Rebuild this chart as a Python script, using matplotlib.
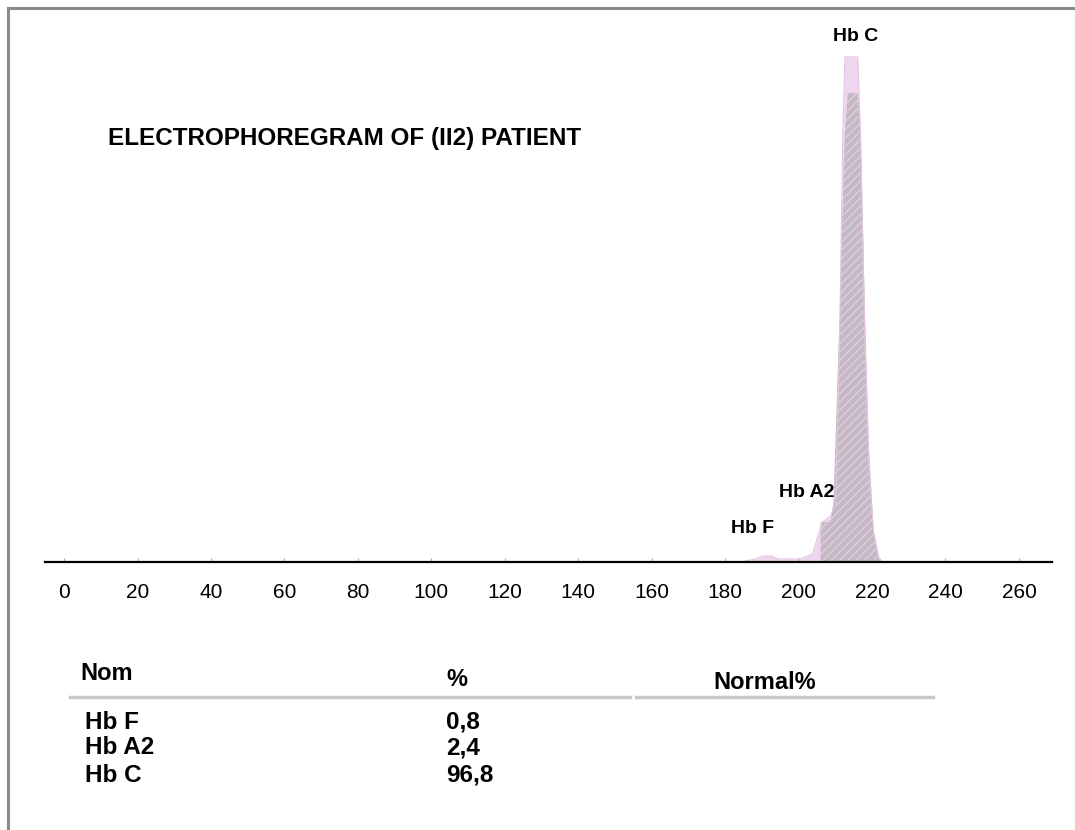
"""
Electropherogram of (II2) patient: capillary electrophoresis trace with Hb fractions table.
"""
import matplotlib.pyplot as plt

# Trace (migration position vs. signal, arbitrary units)
outer_x = [-5, 150, 184.2, 188.3, 190.2, 192.4, 194.6, 200.5, 203.8, 205.4, 206.5,
           208.7, 210.1, 211.2, 212.0, 212.6, 216.1, 216.9, 218.0, 219.1, 220.4,
           221.8, 222.9, 269]
outer_y = [0, 0, 0, 3, 6, 6, 3, 3, 8, 28, 40,
           46, 60, 230, 420, 505, 505, 420, 230, 100, 30,
           5, 0, 0]

inner_x = [206.0, 206.0, 208.7, 209.5, 211.2, 212.6, 213.4, 216.1, 216.9, 218.0,
           219.1, 220.4, 221.8, 222.3]
inner_y = [0, 40, 40, 60, 250, 430, 469, 469, 430, 260,
           120, 30, 3, 0]

ticks = [0, 20, 40, 60, 80, 100, 120, 140, 160, 180, 200, 220, 240, 260]

peak_names = ['Hb C', 'Hb A2', 'Hb F']
peak_lab_x = [215.5, 202.2, 187.5]
peak_lab_y = [526, 70, 34]

names = ['Hb F', 'Hb A2', 'Hb C']
percents = ['0,8', '2,4', '96,8']

FONT = ['Liberation Sans', 'DejaVu Sans']

W, H = 1075, 830
fig = plt.figure(figsize=(W / 100, H / 100), dpi=100)

# frame lines of the original screenshot
fig.add_artist(plt.Line2D([8 / W, 8 / W], [0, 1 - 8 / H], color='#8a8a8a', lw=2.2))
fig.add_artist(plt.Line2D([8 / W, 1], [1 - 8 / H, 1 - 8 / H], color='#8a8a8a', lw=2.2))

# chromatogram axes: x 45..1052 px, baseline at y=562 px
ax = fig.add_axes([45 / W, 1 - 562 / H, (1052 - 45) / W, (562 - 20) / H])
ax.set_xlim(-5.2, 269)
ax.set_ylim(0, 542)

ax.fill_between(outer_x, outer_y, color='#eed6ee', lw=0)
ax.plot(outer_x, outer_y, color='#e2c4e2', lw=0.8)
ax.fill_between(inner_x, inner_y, color='#c5b7c5', lw=0, hatch='////',
                edgecolor='#d9d2d9')

for sp in ['top', 'right', 'left']:
    ax.spines[sp].set_visible(False)
ax.spines['bottom'].set_linewidth(1.6)
ax.spines['bottom'].set_color('black')
ax.set_yticks([])
ax.set_xticks(ticks)
ax.set_xticklabels([str(t) for t in ticks], fontsize=15, family=FONT)
ax.tick_params(axis='x', direction='in', length=3, color='#b0b0b0', pad=15)

# peak labels
for nm, lx, ly in zip(peak_names, peak_lab_x, peak_lab_y):
    ax.text(lx, ly, nm, fontsize=14, fontweight='bold', family=FONT,
            ha='center', va='center')

# title
fig.text(108 / W, 1 - 139 / H, 'ELECTROPHOREGRAM OF (II2) PATIENT', fontsize=17.5,
         fontweight='bold', family=FONT, ha='left', va='center')

# results table
fig.text(80 / W, 1 - 674 / H, 'Nom', fontsize=17, fontweight='bold', family=FONT,
         ha='left', va='center')
fig.text(446 / W, 1 - 679 / H, '%', fontsize=17, fontweight='bold', family=FONT,
         ha='left', va='center')
fig.text(713 / W, 1 - 682 / H, 'Normal%', fontsize=17, fontweight='bold', family=FONT,
         ha='left', va='center')
fig.add_artist(plt.Line2D([70 / W, 630 / W], [1 - 697 / H] * 2, color='#c8c8c8', lw=2.5))
fig.add_artist(plt.Line2D([636 / W, 933 / W], [1 - 697 / H] * 2, color='#c8c8c8', lw=2.5))

row_y = [722, 748, 775]
for nm, pc, yy in zip(names, percents, row_y):
    fig.text(85 / W, 1 - yy / H, nm, fontsize=17.5, fontweight='bold', family=FONT,
             ha='left', va='center')
    fig.text(446 / W, 1 - yy / H, pc, fontsize=17.5, fontweight='bold', family=FONT,
             ha='left', va='center')

plt.savefig('out.png', dpi=100)
